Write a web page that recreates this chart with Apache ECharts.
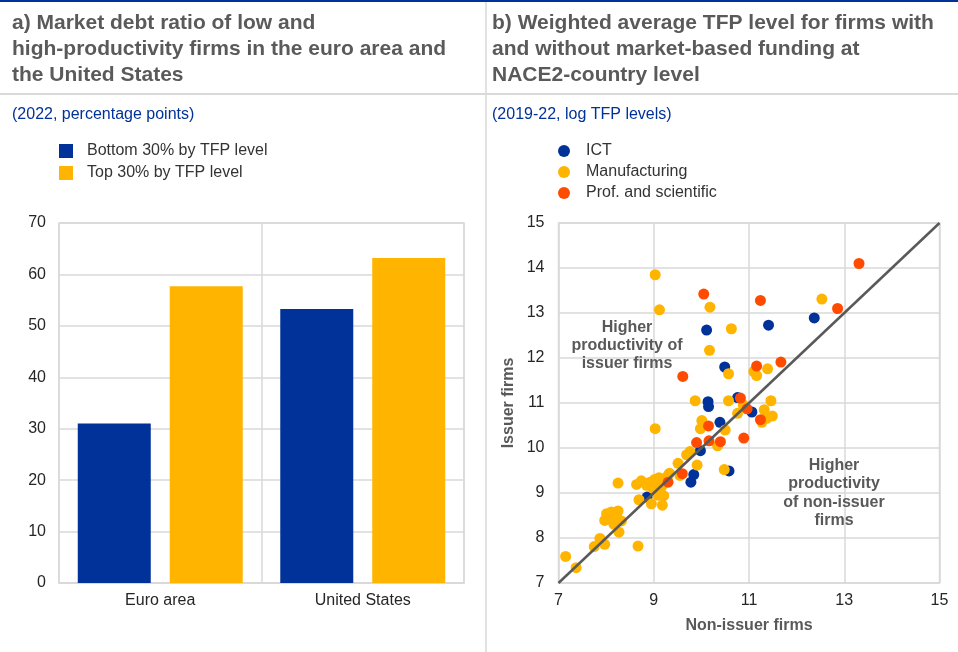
<!DOCTYPE html>
<html>
<head>
<meta charset="utf-8">
<script src="https://cdn.jsdelivr.net/npm/echarts@6/dist/echarts.min.js"></script>
<style>
  html, body { margin: 0; padding: 0; background: #fff; }
  #chart { width: 958px; height: 652px; }
</style>
</head>
<body>
<div id="chart"></div>
<script>
// Panel a: market debt ratio (percentage points, 2022)
const barCategories = ['Euro area', 'United States'];
const bottom30 = [31.0, 53.3];
const top30 = [57.7, 63.2];
const barTicks = { min: 0, max: 70, interval: 10 };

// Panel b: log TFP levels, [non-issuer firms, issuer firms]
const ictPoints = [
  [12.37, 12.89], [11.41, 12.73], [10.11, 12.62], [10.49, 11.80], [10.76, 11.12],
  [10.14, 11.03], [10.15, 10.92], [11.06, 10.80], [10.39, 10.57], [9.98, 9.94],
  [10.58, 9.49], [9.84, 9.41], [9.78, 9.24], [8.86, 8.91]
];
const manufacturingPoints = [
  [9.03, 13.85], [9.12, 13.07], [10.18, 13.13], [12.53, 13.31], [10.63, 12.65], [10.17, 12.17],
  [11.10, 11.70], [11.16, 11.61], [11.39, 11.76], [10.57, 11.65],
  [9.87, 11.05], [10.57, 11.05], [11.46, 11.05], [10.76, 10.77], [10.88, 10.96], [11.32, 10.85],
  [11.49, 10.71], [11.37, 10.66], [11.27, 10.57],
  [10.01, 10.61], [9.98, 10.43], [10.50, 10.40], [9.03, 10.43], [10.34, 10.05],
  [9.76, 9.92], [9.69, 9.85], [9.51, 9.66], [9.91, 9.62], [10.48, 9.52], [9.55, 9.39],
  [9.30, 9.39], [9.33, 9.44], [9.11, 9.34], [9.02, 9.30], [8.92, 9.24], [8.74, 9.27],
  [8.64, 9.19], [8.25, 9.22], [8.85, 9.17], [8.99, 9.10], [9.16, 9.13], [9.09, 8.95],
  [9.21, 8.94], [8.69, 8.85], [8.95, 8.76], [9.18, 8.73],
  [8.01, 8.54], [8.11, 8.58], [8.25, 8.60], [7.97, 8.39], [8.15, 8.40], [8.32, 8.38],
  [8.22, 8.46], [8.16, 8.31], [8.27, 8.13],
  [7.87, 7.99], [7.97, 7.86], [7.75, 7.81], [8.67, 7.82], [7.15, 7.59], [7.37, 7.34]
];
const profSciPoints = [
  [13.31, 14.10], [10.05, 13.42], [11.24, 13.28], [12.86, 13.10], [11.67, 11.91],
  [11.16, 11.82], [9.61, 11.59], [10.82, 11.11], [10.96, 10.87], [11.24, 10.63],
  [10.15, 10.49], [10.16, 10.16], [10.40, 10.14], [10.89, 10.22], [9.90, 10.12],
  [9.60, 9.43], [9.30, 9.24]
];
const diagonal = [[7, 7], [15, 15]];
const tfpTicks = { min: 7, max: 15, xInterval: 2, yInterval: 1 };

const BLUE = '#003299';
const YELLOW = '#FFB400';
const ORANGE = '#FF4B00';
const GRIDLINE = '#d9d9d9';
const TITLE_GREY = '#5a5a5a';
const LABEL = '#262626';
const FONT = 'Arial, "Liberation Sans", sans-serif';

const chart = echarts.init(document.getElementById('chart'), null, { renderer: 'canvas' });

function titleLines(lines, x) {
  return lines.map((t, i) => ({
    type: 'text', left: x, top: 13 + i * 26,
    style: { text: t, font: 'bold 21px ' + FONT, fill: TITLE_GREY }
  }));
}

const axisLabelStyle = { color: LABEL, fontSize: 16, fontFamily: FONT };

chart.setOption({
  animation: false,
  textStyle: { fontFamily: FONT },
  graphic: [
    { type: 'rect', shape: { x: 0, y: 0, width: 958, height: 2 }, style: { fill: BLUE } },
    { type: 'line', shape: { x1: 486, y1: 2, x2: 486, y2: 652 }, style: { stroke: GRIDLINE, lineWidth: 1.5 } },
    { type: 'line', shape: { x1: 0, y1: 94, x2: 958, y2: 94 }, style: { stroke: GRIDLINE, lineWidth: 2 } },
    ...titleLines(['a) Market debt ratio of low and', 'high-productivity firms in the euro area and', 'the United States'], 12),
    ...titleLines(['b) Weighted average TFP level for firms with', 'and without market-based funding at', 'NACE2-country level'], 492),
    { type: 'text', left: 12, top: 107, style: { text: '(2022, percentage points)', font: '16px ' + FONT, fill: BLUE } },
    { type: 'text', left: 492, top: 107, style: { text: '(2019-22, log TFP levels)', font: '16px ' + FONT, fill: BLUE } },
    {
      type: 'text', x: 627, y: 346, z: 5,
      style: { text: 'Higher\nproductivity of\nissuer firms', font: 'bold 16px ' + FONT, fill: '#595959', align: 'center', verticalAlign: 'middle', lineHeight: 18 }
    },
    {
      type: 'text', x: 834, y: 493, z: 5,
      style: { text: 'Higher\nproductivity\nof non-issuer\nfirms', font: 'bold 16px ' + FONT, fill: '#595959', align: 'center', verticalAlign: 'middle', lineHeight: 18.3 }
    }
  ],
  legend: [
    {
      orient: 'vertical', left: 59, top: 143, padding: 0, itemWidth: 14, itemHeight: 14, itemGap: 6,
      icon: 'rect', data: ['Bottom 30% by TFP level', 'Top 30% by TFP level'],
      textStyle: { color: '#333', fontSize: 16, padding: [0, 0, 0, 9] }
    },
    {
      orient: 'vertical', left: 558, top: 143, padding: 0, itemWidth: 12, itemHeight: 12, itemGap: 5,
      icon: 'circle', data: ['ICT', 'Manufacturing', 'Prof. and scientific'],
      textStyle: { color: '#333', fontSize: 16, padding: [0, 0, 0, 11] }
    }
  ],
  grid: [
    { left: 59, top: 223, width: 405, height: 360, show: true, borderColor: GRIDLINE, borderWidth: 1.5, backgroundColor: 'transparent' },
    { left: 558.5, top: 223, width: 381, height: 360, show: true, borderColor: GRIDLINE, borderWidth: 1.5, backgroundColor: 'transparent' }
  ],
  xAxis: [
    {
      gridIndex: 0, type: 'category', data: barCategories,
      axisLine: { show: true, lineStyle: { color: GRIDLINE, width: 1.5 } },
      axisTick: { show: false },
      splitLine: { show: true, lineStyle: { color: GRIDLINE, width: 1.5 } },
      axisLabel: Object.assign({ margin: 10 }, axisLabelStyle)
    },
    {
      gridIndex: 1, type: 'value', min: tfpTicks.min, max: tfpTicks.max, interval: tfpTicks.xInterval,
      name: 'Non-issuer firms', nameLocation: 'middle', nameGap: 35,
      nameTextStyle: { color: '#595959', fontWeight: 'bold', fontSize: 16 },
      axisLine: { show: false }, axisTick: { show: false },
      splitLine: { show: true, lineStyle: { color: GRIDLINE, width: 1.5 } },
      axisLabel: Object.assign({ margin: 10 }, axisLabelStyle)
    }
  ],
  yAxis: [
    {
      gridIndex: 0, type: 'value', min: barTicks.min, max: barTicks.max, interval: barTicks.interval,
      axisLine: { show: false }, axisTick: { show: false },
      splitLine: { show: true, lineStyle: { color: GRIDLINE, width: 1.5 } },
      axisLabel: Object.assign({ margin: 13 }, axisLabelStyle)
    },
    {
      gridIndex: 1, type: 'value', min: tfpTicks.min, max: tfpTicks.max, interval: tfpTicks.yInterval,
      name: 'Issuer firms', nameLocation: 'middle', nameGap: 42,
      nameTextStyle: { color: '#595959', fontWeight: 'bold', fontSize: 16 },
      axisLine: { show: false }, axisTick: { show: false },
      splitLine: { show: true, lineStyle: { color: GRIDLINE, width: 1.5 } },
      axisLabel: Object.assign({ margin: 14 }, axisLabelStyle)
    }
  ],
  series: [
    {
      name: 'Bottom 30% by TFP level', type: 'bar', xAxisIndex: 0, yAxisIndex: 0,
      data: bottom30, barWidth: 73, barGap: '26%', itemStyle: { color: BLUE }
    },
    {
      name: 'Top 30% by TFP level', type: 'bar', xAxisIndex: 0, yAxisIndex: 0,
      data: top30, barWidth: 73, barGap: '26%', itemStyle: { color: YELLOW }
    },
    {
      name: 'ICT', type: 'scatter', xAxisIndex: 1, yAxisIndex: 1,
      data: ictPoints, symbolSize: 11, itemStyle: { color: BLUE, opacity: 1 }, z: 2
    },
    {
      name: 'Manufacturing', type: 'scatter', xAxisIndex: 1, yAxisIndex: 1,
      data: manufacturingPoints, symbolSize: 11, itemStyle: { color: YELLOW, opacity: 1 }, z: 3
    },
    {
      name: 'Prof. and scientific', type: 'scatter', xAxisIndex: 1, yAxisIndex: 1,
      data: profSciPoints, symbolSize: 11, itemStyle: { color: ORANGE, opacity: 1 }, z: 4
    },
    {
      name: 'Equal productivity', type: 'line', xAxisIndex: 1, yAxisIndex: 1,
      data: diagonal, symbol: 'none', silent: true, z: 6,
      lineStyle: { color: '#595959', width: 2.5 }
    }
  ]
});
</script>
</body>
</html>
